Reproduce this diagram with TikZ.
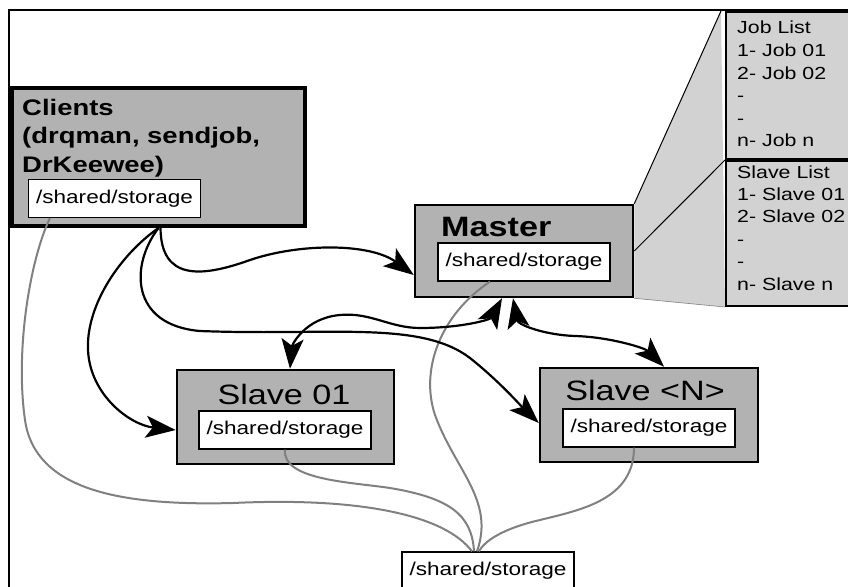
\documentclass[tikz,border=0pt]{standalone}
\usepackage{fontspec}
\setmainfont[FakeStretch=1.22]{Liberation Sans}
\usetikzlibrary{arrows.meta,backgrounds}

\begin{document}
\begin{tikzpicture}[x=1pt,y=-1pt]
    \tikzset{box/.style = {shape=rectangle,draw,line width=2.5pt,fill=gray!60,inner sep=0pt},
             store/.style = {shape=rectangle,draw,line width=1.2pt,fill=white,inner sep=0pt,
                             minimum width=172pt,minimum height=38pt,font=\fontsize{18.5}{20}\selectfont},
             boxtitle/.style = {inner sep=0pt,anchor=base west,font=\bfseries\fontsize{22.5}{28}\selectfont},
             slavetitle/.style = {inner sep=0pt,anchor=base,font=\fontsize{28}{30}\selectfont},
             listbox/.style = {shape=rectangle,draw,line width=2pt,fill=gray!35,minimum width=170pt,inner sep=0pt,anchor=north west},
             listtext/.style = {inner sep=0pt,anchor=base west,font=\fontsize{17.5}{22}\selectfont},
             bigtip/.tip = {Stealth[length=30pt,width=22pt,inset=7pt]},
             arr/.style = {line width=2.2pt,-bigtip},
             darr/.style = {line width=2.2pt,bigtip-bigtip},
             link/.style = {draw=black!50,line width=2pt}}

    \useasboundingbox (0,0) rectangle (848,586);
    \clip (0,0) rectangle (848,586);

    % Frame
    \draw[line width=1.2pt] (9,620) -- (9,10) -- (880,10);

    % Job and slave lists
    \node[listbox,minimum height=147pt] (joblist) at (725,11) {};
    \node[listbox,minimum height=145pt] (slavelist) at (joblist.south west) {};
    \foreach \txt [count=\i from 0] in {Job List, 1- Job 01, 2- Job 02, -, -, n- Job n}
        \node[listtext] (job\i) at (737,34+22.5*\i) {\txt};
    \foreach \txt [count=\i from 0] in {Slave List, 1- Slave 01, 2- Slave 02, -, -, n- Slave n}
        \node[listtext] (slave\i) at (737,178+22.4*\i) {\txt};

    % Machines
    \node[box,line width=4pt,minimum width=293pt,minimum height=138pt] (clients) at (158.5,157) {};
    \node[box,minimum width=218pt,minimum height=92pt] (master) at (524,251) {};
    \node[box,minimum width=217pt,minimum height=94pt] (slave01) at (285.5,417) {};
    \node[box,minimum width=218pt,minimum height=94pt] (slaveN) at (649,415) {};

    \foreach \txt [count=\i] in {Clients, {(drqman, sendjob,}, DrKeewee)}
        \node[boxtitle] (clients\i) at (22,86.5+28.5*\i) {\txt};
    \node[boxtitle,font=\bfseries\fontsize{28}{30}\selectfont] (mastertitle) at (441,236) {Master};
    \node[slavetitle] (slave01title) at (284,404) {Slave 01};
    \node[slavetitle] (slaveNtitle) at (645,400) {Slave <N>};

    % Shared storage
    \foreach \pos/\name in {{(114.5,198.5)/clientsst}, {(524,262)/masterst}, {(285,430)/slave01st},
                            {(649,428)/slaveNst}, {(488,571)/shared}}
        \node[store] (\name) at \pos {/shared/storage};

    % Master zoom-out to the lists
    \begin{scope}[on background layer]
        \fill[white] (0,0) rectangle (848,586);
        \fill[gray!35] (master.north east) -- (721,11) -- (slavelist.south west) -- (master.south east) -- cycle;
    \end{scope}
    \draw[line width=1pt] (master.north east) -- (721,11);
    \draw[line width=1pt] (master.east) -- (joblist.south west);
    \draw[line width=0.6pt,gray] (master.south east) -- (slavelist.south west);

    % Storage mounts
    \draw[link] ([xshift=22pt]clientsst.south west) .. controls (30,260) and (15,350) .. (25,420)
        .. controls (35,490) and (120,506) .. (233,503)
        .. controls (360,497) and (445,515) .. ([xshift=-16pt]shared.north);
    \draw[link] (slave01st.south) .. controls (282,480) and (350,482) .. (390,488)
        .. controls (450,498) and (472,515) .. ([xshift=-14pt]shared.north);
    \draw[link] ([xshift=-34pt]masterst.south) .. controls (440,315) and (420,370) .. (435,415)
        .. controls (455,470) and (495,500) .. ([xshift=-11pt]shared.north);
    \draw[link] ([xshift=-15pt]slaveNst.south) .. controls (634,500) and (580,510) .. (540,520)
        .. controls (505,528) and (485,540) .. ([xshift=-9pt]shared.north);

    % Jobs and messages
    \draw[arr] ([xshift=2pt]clients.south) .. controls (161,280) and (200,278) .. (250,260)
        .. controls (300,243) and (370,243) .. ([yshift=-24pt]master.west);
    \draw[arr] (clients.south) .. controls (130,265) and (130,325) .. (200,331)
        .. controls (330,336) and (420,320) .. (470,358)
        .. controls (500,382) and (520,405) .. ([yshift=-8pt]slaveN.west);
    \draw[arr] (clients.south) .. controls (120,255) and (86,305) .. (88,350)
        .. controls (90,395) and (130,425) .. ([yshift=-13pt]slave01.west);
    \draw[darr] ([xshift=-22pt]master.south) .. controls (490,320) and (460,328) .. (420,328)
        .. controls (390,328) and (370,312) .. (340,315)
        .. controls (305,318) and (292,345) .. ([xshift=4.5pt]slave01.north);
    \draw[darr] ([xshift=-11pt]master.south) .. controls (518,325) and (545,335) .. (575,336)
        .. controls (610,337) and (645,348) .. ([xshift=15pt]slaveN.north);
\end{tikzpicture}
\end{document}
